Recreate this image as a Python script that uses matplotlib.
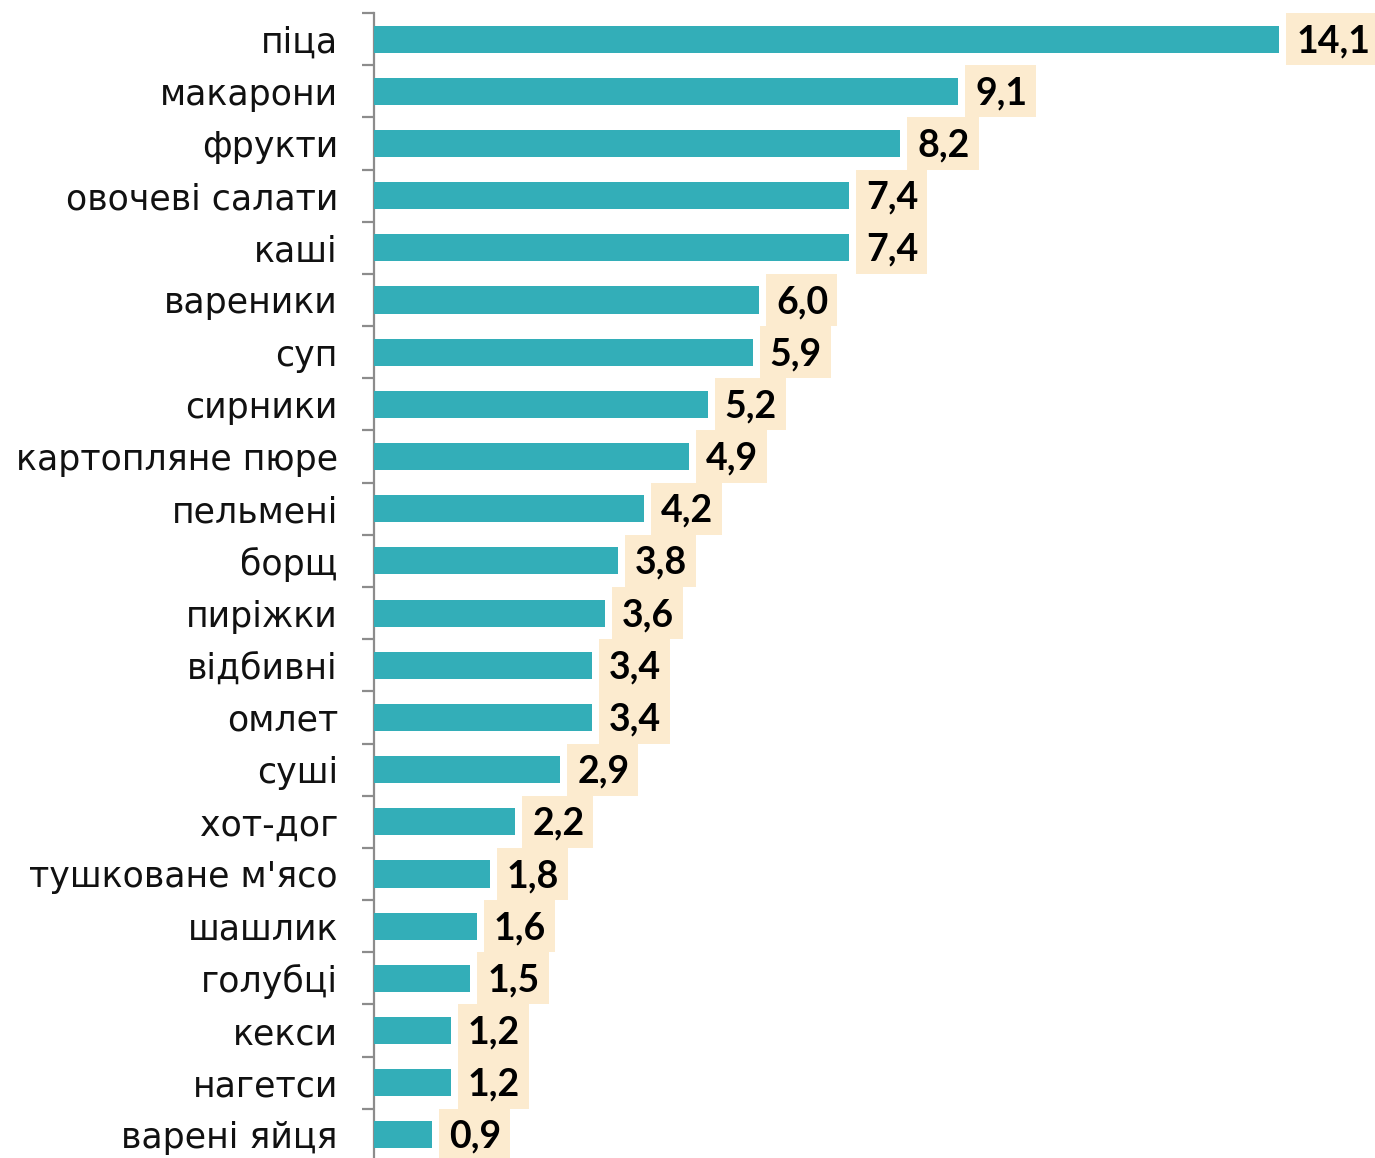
import matplotlib
matplotlib.use("Agg")
import matplotlib.pyplot as plt
from matplotlib.ticker import FixedLocator, NullLocator
from matplotlib.transforms import offset_copy

categories = ["піца", "макарони", "фрукти", "овочеві салати", "каші", "вареники",
              "суп", "сирники", "картопляне пюре", "пельмені", "борщ", "пиріжки",
              "відбивні", "омлет", "суші", "хот-дог", "тушковане м'ясо", "шашлик",
              "голубці", "кекси", "нагетси", "варені яйця"]
values = [14.1, 9.1, 8.2, 7.4, 7.4, 6.0, 5.9, 5.2, 4.9, 4.2, 3.8, 3.6,
          3.4, 3.4, 2.9, 2.2, 1.8, 1.6, 1.5, 1.2, 1.2, 0.9]

BAR = "#33AEB8"
BOX = "#FCEBCF"
AXC = "#8C8C8C"

W, H, DPI = 1375, 1158, 100
fig = plt.figure(figsize=(W / DPI, H / DPI), dpi=DPI)
ax = fig.add_axes([374 / W, -3 / H, 1 - 374 / W, (1161 - 13) / H])

n = len(categories)
ypos = list(range(n))
ax.barh(ypos, values, height=0.52, color=BAR, zorder=3)
ax.set_ylim(n - 0.5, -0.5)
px_per_unit = 64.2
ax.set_xlim(0, (W - 374) / px_per_unit)

for s in ["top", "right", "bottom"]:
    ax.spines[s].set_visible(False)
ax.spines["left"].set_color(AXC)
ax.spines["left"].set_linewidth(1.6)
ax.xaxis.set_major_locator(NullLocator())
ax.yaxis.set_major_locator(FixedLocator(ypos))
ax.set_yticklabels(categories, fontsize=25, family="DejaVu Sans", color="#111111")
ax.yaxis.set_minor_locator(FixedLocator([i - 0.5 for i in range(n + 1)]))
ax.tick_params(axis="y", which="major", length=0, pad=26)
ax.tick_params(axis="y", which="minor", length=9, width=1.6, color=AXC)

fig.canvas.draw()
renderer = fig.canvas.get_renderer()
gap = 7 / px_per_unit
padl = 10 / px_per_unit
tr = offset_copy(ax.transData, fig=fig, x=0, y=-2, units="dots")
for y, v in zip(ypos, values):
    lab = f"{v:.1f}".replace(".", ",")
    t = ax.text(v + gap + padl, y, lab, fontsize=27, fontweight="bold", family="Lato",
                va="center", ha="left", color="#000000", zorder=5, transform=tr)
    bb = t.get_window_extent(renderer)
    wdata = (bb.width + 19) / px_per_unit
    ax.barh(y, wdata, left=v + gap, height=1.0, color=BOX, zorder=4)

fig.savefig("out.png", dpi=DPI)
